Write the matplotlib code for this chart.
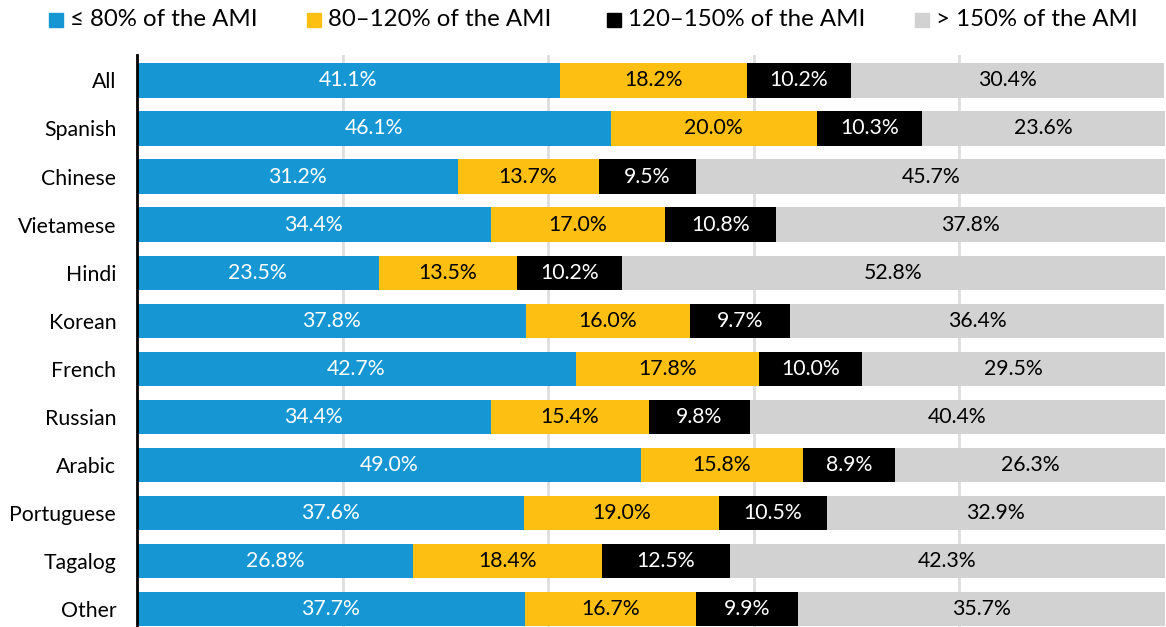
import matplotlib.pyplot as plt
from matplotlib.patches import Rectangle

plt.rcParams['font.family'] = ['Lato', 'DejaVu Sans']

languages = ['All', 'Spanish', 'Chinese', 'Vietamese', 'Hindi', 'Korean', 'French',
             'Russian', 'Arabic', 'Portuguese', 'Tagalog', 'Other']
low = [41.1, 46.1, 31.2, 34.4, 23.5, 37.8, 42.7, 34.4, 49.0, 37.6, 26.8, 37.7]
mid = [18.2, 20.0, 13.7, 17.0, 13.5, 16.0, 17.8, 15.4, 15.8, 19.0, 18.4, 16.7]
upper = [10.2, 10.3, 9.5, 10.8, 10.2, 9.7, 10.0, 9.8, 8.9, 10.5, 12.5, 9.9]
high = [30.4, 23.6, 45.7, 37.8, 52.8, 36.4, 29.5, 40.4, 26.3, 32.9, 42.3, 35.7]

series = [low, mid, upper, high]
names = ['≤ 80% of the AMI', '80–120% of the AMI', '120–150% of the AMI', '> 150% of the AMI']
colors = ['#1696d2', '#fdbf11', '#000000', '#d2d2d2']
text_colors = ['white', 'black', 'white', 'black']

W, H = 1166, 627
fig = plt.figure(figsize=(W / 100, H / 100), dpi=100)
ax = fig.add_axes([137 / W, 0, 1 - 138 / W, (H - 55) / H])

y = list(range(len(languages)))
left = [0.0] * len(languages)
for vals, col, tc in zip(series, colors, text_colors):
    ax.barh(y, vals, left=left, height=0.71, color=col, zorder=2)
    for i, v in enumerate(vals):
        ax.text(left[i] + v / 2, i, f'{v:.1f}%', ha='center', va='center',
                color=tc, fontsize=15.3, zorder=3)
    left = [l + v for l, v in zip(left, vals)]

ax.set_xlim(0, 100)
ax.set_ylim(11.38, -0.53)
ax.set_yticks(y)
ax.set_yticklabels(languages, fontsize=15.3)
ax.tick_params(axis='y', length=0, pad=15)
ax.set_xticks([20, 40, 60, 80])
ax.tick_params(axis='x', length=0, labelbottom=False)
ax.grid(axis='x', color='#dedede', lw=2, zorder=0)
for s in ['top', 'right', 'bottom']:
    ax.spines[s].set_visible(False)
ax.spines['left'].set_linewidth(2)
ax.spines['left'].set_zorder(4)

# legend drawn by hand
marker_x = [49, 307, 607, 915]
for mx, name, col in zip(marker_x, names, colors):
    fig.patches.append(Rectangle((mx / W, 1 - 27 / H), 14 / W, 14 / H,
                                 transform=fig.transFigure, color=col))
    fig.text((mx + 21) / W, 1 - 20 / H, name, fontsize=17.3, va='center', ha='left')

fig.savefig('out.png', dpi=100)
